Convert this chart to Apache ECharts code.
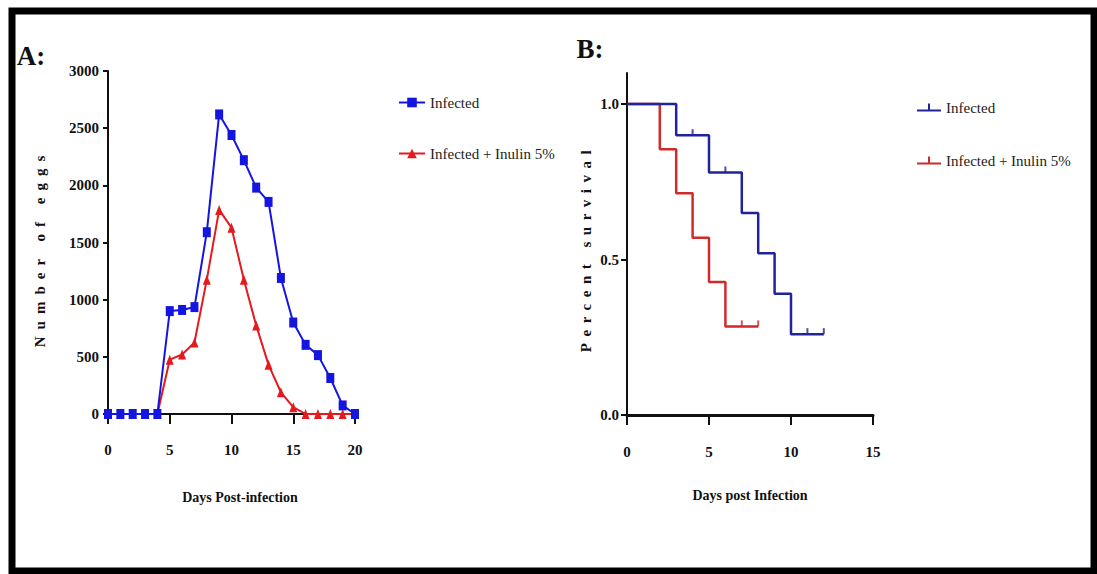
<!DOCTYPE html>
<html>
<head>
<meta charset="utf-8">
<script src="https://cdn.jsdelivr.net/npm/echarts@6/dist/echarts.min.js"></script>
<style>
  html, body { margin: 0; padding: 0; background: #fff; }
  #chart { width: 1097px; height: 574px; }
</style>
</head>
<body>
<div id="chart"></div>
<script>
// Panel A: egg counts per day
const daysA = [0, 1, 2, 3, 4, 5, 6, 7, 8, 9, 10, 11, 12, 13, 14, 15, 16, 17, 18, 19, 20];
const infectedEggs = [0, 0, 0, 0, 0, 900, 910, 935, 1590, 2620, 2440, 2220, 1980, 1855, 1190, 800, 605, 515, 315, 75, 0];
const inulinEggs = [0, 0, 0, 0, 0, 475, 520, 625, 1175, 1785, 1630, 1175, 775, 430, 190, 60, 0, 0, 0, 0, 0];

// Panel B: survival curves (step points) and censor marks
const survDaysInfected = [0, 3, 5, 7, 8, 9, 10, 12];
const survInfected = [1.0, 0.9, 0.78, 0.65, 0.52, 0.39, 0.26, 0.26];
const survDaysInulin = [0, 2, 3, 4, 5, 6, 8];
const survInulin = [1.0, 0.855, 0.713, 0.57, 0.428, 0.285, 0.285];
const censorDaysInfected = [4, 6, 11, 12];
const censorInfected = [0.9, 0.78, 0.26, 0.26];
const censorDaysInulin = [7, 8];
const censorInulin = [0.285, 0.285];

const yTicksA = [0, 500, 1000, 1500, 2000, 2500, 3000];
const yTicksB = [0, 0.5, 1.0];

const SERIF = 'Liberation Serif, Times New Roman, serif';
const BLUE_A = '#1515e0';
const RED_A = '#e41a1f';
const BLUE_B = '#22229a';
const RED_B = '#d02a2a';

const zip = (xs, ys) => xs.map((x, i) => [x, ys[i]]);

const chart = echarts.init(document.getElementById('chart'), null, { renderer: 'svg' });

const tickLabel = { color: '#111', fontFamily: SERIF, fontWeight: 'bold', fontSize: 15 };

function textEl(text, x, y, size, weight, rotation) {
    return {
        type: 'text', x: x, y: y, rotation: rotation || 0, silent: true,
        style: {
            text: text, fill: '#111', fontFamily: SERIF, fontSize: size, fontWeight: weight,
            align: 'center', verticalAlign: 'middle', textAlign: 'center', textVerticalAlign: 'middle'
        }
    };
}

const option = {
    animation: false,
    textStyle: { fontFamily: SERIF },
    graphic: [
        { type: 'rect', silent: true, shape: { x: 12, y: 11, width: 1082, height: 560 },
          style: { fill: 'none', stroke: '#000', lineWidth: 7 } },
        textEl('A:', 31, 56, 27, 'bold'),
        textEl('B:', 590, 49, 27, 'bold'),
        textEl('Number of eggs', 40, 248, 15, 'bold', Math.PI / 2),
        textEl('Percent survival', 586, 248, 15, 'bold', Math.PI / 2),
        textEl('Days Post-infection', 240, 497, 14, 'bold'),
        textEl('Days post Infection', 750, 495, 14, 'bold')
    ],
    legend: [
        {
            orient: 'vertical', left: 393, top: 90, itemWidth: 26, itemHeight: 12, itemGap: 36,
            data: ['Infected', 'Infected + Inulin 5%'],
            selectedMode: false,
            textStyle: { fontFamily: SERIF, fontSize: 15, color: '#222' }
        },
        {
            orient: 'vertical', left: 912, top: 95, itemWidth: 24, itemHeight: 8, itemGap: 38,
            icon: 'path://M0,6h24v2h-24z M11,0h2v6h-2z',
            data: ['Infected (B)', 'Infected + Inulin 5% (B)'],
            selectedMode: false,
            formatter: name => name.replace(' (B)', ''),
            textStyle: { fontFamily: SERIF, fontSize: 15, color: '#222' }
        }
    ],
    grid: [
        { left: 108, top: 71, width: 247, height: 343 },
        { left: 627, top: 73, width: 246, height: 342 }
    ],
    xAxis: [
        {
            type: 'value', gridIndex: 0, min: 0, max: 20, interval: 5,
            axisLine: { show: true, lineStyle: { color: '#111', width: 2 } },
            axisTick: { show: true, length: 10, lineStyle: { color: '#111', width: 2 } },
            axisLabel: Object.assign({ margin: 28, formatter: v => String(v) }, tickLabel),
            splitLine: { show: false }
        },
        {
            type: 'value', gridIndex: 1, min: 0, max: 15, interval: 5,
            axisLine: { show: true, lineStyle: { color: '#111', width: 3 } },
            axisTick: { show: true, length: 10, lineStyle: { color: '#111', width: 2 } },
            axisLabel: Object.assign({ margin: 29, formatter: v => String(v) }, tickLabel),
            splitLine: { show: false }
        }
    ],
    yAxis: [
        {
            type: 'value', gridIndex: 0, min: 0, max: 3000, interval: 500,
            axisLine: { show: true, lineStyle: { color: '#111', width: 2 } },
            axisTick: { show: true, length: 5, lineStyle: { color: '#111', width: 2 }, customValues: yTicksA },
            axisLabel: Object.assign({ margin: 9, customValues: yTicksA, formatter: v => String(v) }, tickLabel),
            splitLine: { show: false }
        },
        {
            type: 'value', gridIndex: 1, min: 0, max: 1.1,
            axisLine: { show: true, lineStyle: { color: '#111', width: 2 } },
            axisTick: { show: true, length: 6, lineStyle: { color: '#111', width: 2 }, customValues: yTicksB },
            axisLabel: Object.assign({ margin: 8, customValues: yTicksB, formatter: v => Number(v).toFixed(1) }, tickLabel),
            splitLine: { show: false }
        }
    ],
    series: [
        {
            name: 'Infected + Inulin 5%', type: 'line', xAxisIndex: 0, yAxisIndex: 0, z: 2,
            data: zip(daysA, inulinEggs),
            symbol: 'triangle', symbolSize: [8, 10],
            lineStyle: { color: RED_A, width: 2 }, itemStyle: { color: RED_A }
        },
        {
            name: 'Infected', type: 'line', xAxisIndex: 0, yAxisIndex: 0, z: 3,
            data: zip(daysA, infectedEggs),
            symbol: 'rect', symbolSize: [8, 10],
            lineStyle: { color: BLUE_A, width: 2 }, itemStyle: { color: BLUE_A }
        },
        {
            name: 'Infected + Inulin 5% (B)', type: 'line', step: 'end', xAxisIndex: 1, yAxisIndex: 1, z: 2,
            data: zip(survDaysInulin, survInulin), showSymbol: false, symbol: 'none',
            lineStyle: { color: RED_B, width: 2.5 }, itemStyle: { color: RED_B }
        },
        {
            name: 'Infected (B)', type: 'line', step: 'end', xAxisIndex: 1, yAxisIndex: 1, z: 3,
            data: zip(survDaysInfected, survInfected), showSymbol: false, symbol: 'none',
            lineStyle: { color: BLUE_B, width: 2.5 }, itemStyle: { color: BLUE_B }
        },
        {
            type: 'scatter', xAxisIndex: 1, yAxisIndex: 1, z: 3, silent: true,
            data: zip(censorDaysInulin, censorInulin),
            symbol: 'rect', symbolSize: [2, 6], symbolOffset: [0, -3], itemStyle: { color: RED_B }
        },
        {
            type: 'scatter', xAxisIndex: 1, yAxisIndex: 1, z: 4, silent: true,
            data: zip(censorDaysInfected, censorInfected),
            symbol: 'rect', symbolSize: [2, 6], symbolOffset: [0, -3], itemStyle: { color: BLUE_B }
        }
    ]
};

chart.setOption(option);

// spaced-out lettering of the y axis titles
function spaceTitles() {
    document.querySelectorAll('#chart text').forEach(t => {
        if (t.textContent === 'Number of eggs') t.style.letterSpacing = '7px';
        if (t.textContent === 'Percent survival') t.style.letterSpacing = '6.5px';
    });
}
spaceTitles();
requestAnimationFrame(spaceTitles);
setTimeout(spaceTitles, 50);
</script>
</body>
</html>
